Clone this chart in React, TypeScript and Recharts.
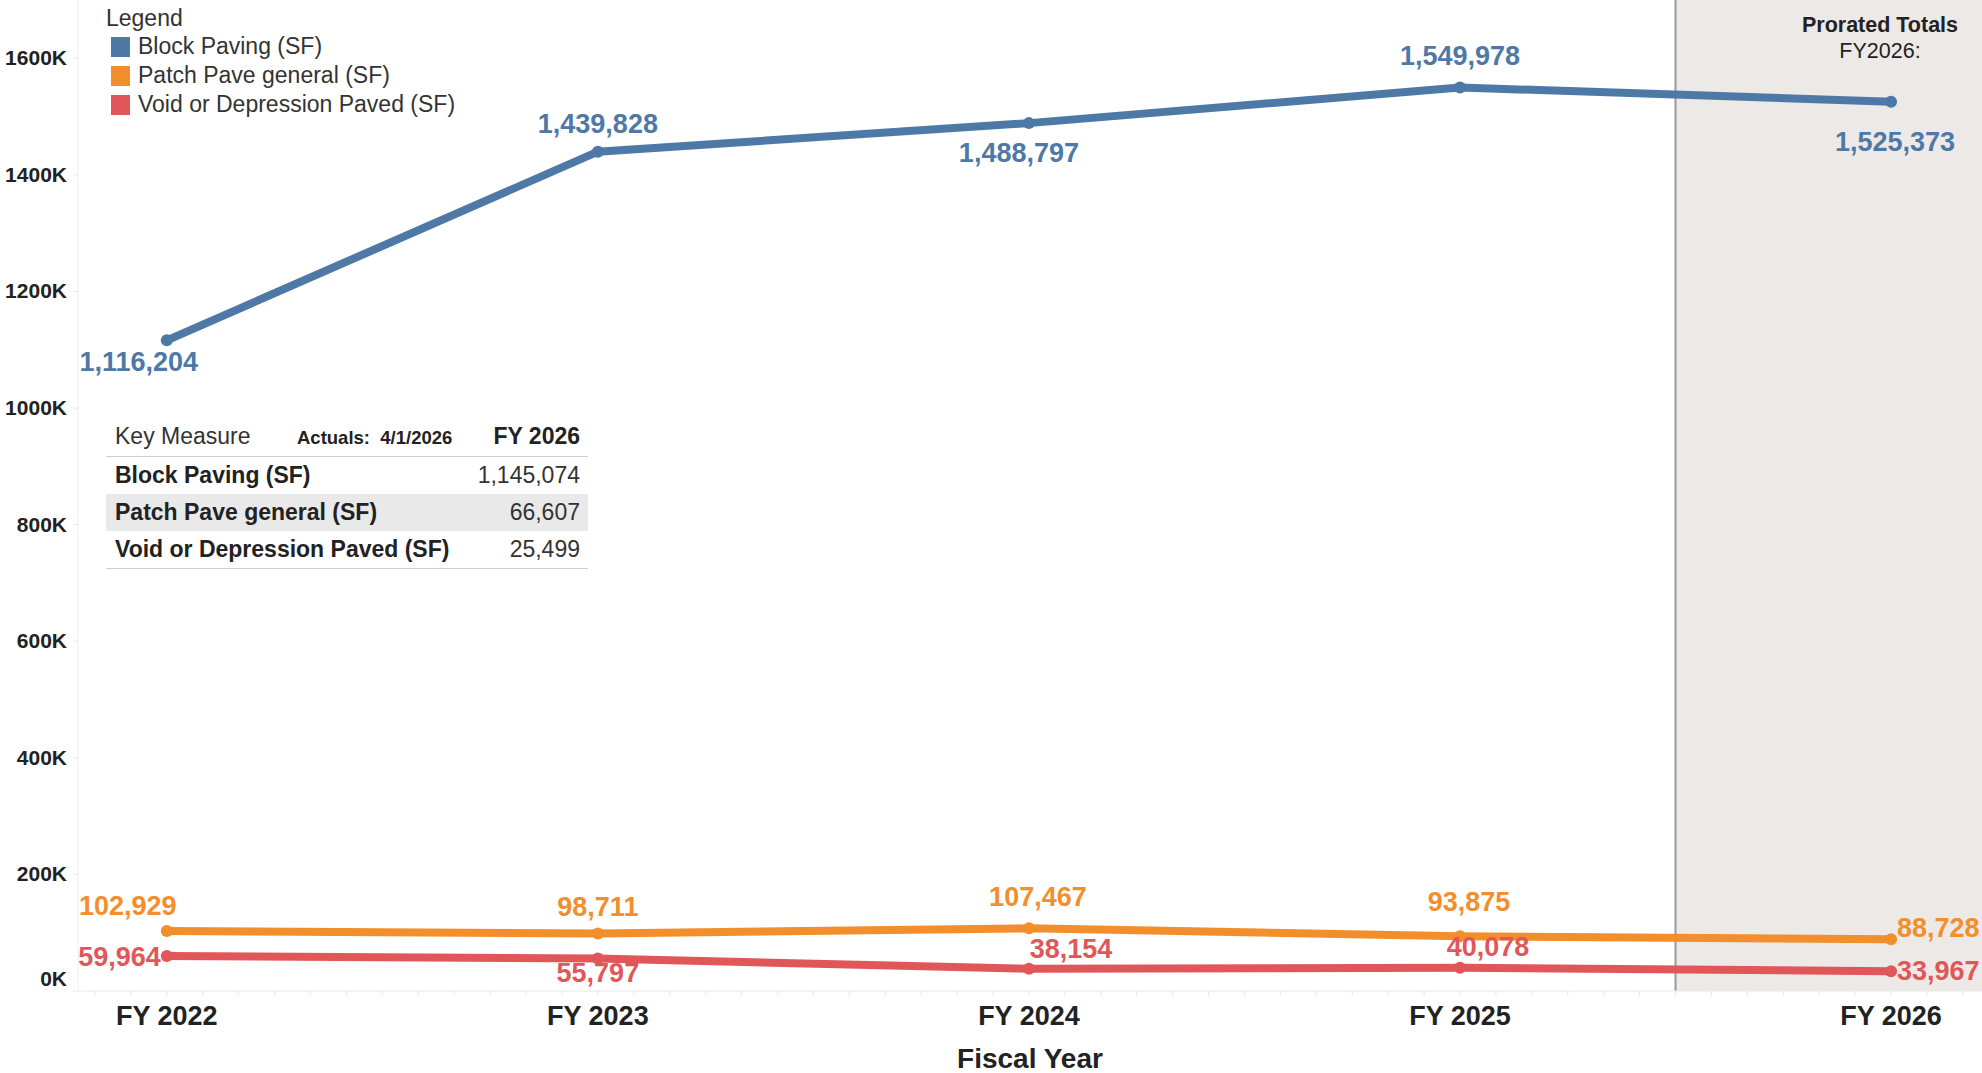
import { LineChart, Line, XAxis, YAxis, ReferenceArea, ReferenceLine, LabelList, Legend, Label } from "recharts"

const years = [2022, 2023, 2024, 2025, 2026]
const yearLabels = ["FY 2022", "FY 2023", "FY 2024", "FY 2025", "FY 2026"]
const blockPaving = [1116204, 1439828, 1488797, 1549978, 1525373]
const patchPave = [102929, 98711, 107467, 93875, 88728]
const voidPaved = [59964, 55797, 38154, 40078, 33967]
const yTicks = [0, 200000, 400000, 600000, 800000, 1000000, 1200000, 1400000, 1600000]

const tableRows = ["Block Paving (SF)", "Patch Pave general (SF)", "Void or Depression Paved (SF)"]
const tableValues = [1145074, 66607, 25499]

const data = years.map((year, i) => ({
  year,
  block: blockPaving[i],
  patch: patchPave[i],
  void: voidPaved[i],
}))

// monthly minor ticks like tableau's date axis
const monthTicks = Array.from({ length: 53 }, (_, i) => 2021 + (10 + i) / 12)

const FONT = '"Liberation Sans", Arial, sans-serif'
const BLUE = "#4e79a7"
const ORANGE = "#f28e2b"
const RED = "#e15759"

// label offsets from each point: [dx, dy(center), anchor]
const blockPos: [number, number, string][] = [[-28, 22, "middle"], [0, -28, "middle"], [-10, 30, "middle"], [0, -31, "middle"], [4, 40, "middle"]]
const patchPos: [number, number, string][] = [[-39, -25, "middle"], [0, -26, "middle"], [9, -31, "middle"], [9, -34, "middle"], [6, -11, "start"]]
const voidPos: [number, number, string][] = [[-6, 1, "end"], [0, 15, "middle"], [42, -20, "middle"], [28, -21, "middle"], [6, 0, "start"]]

const makeLabel = (color: string, pos: [number, number, string][]) => (props: any) => {
  const { x, y, value, index } = props
  const [dx, dy, anchor] = pos[index]
  return (
    <text x={x + dx} y={y + dy + 9} textAnchor={anchor as any} fill={color}
      style={{ fontFamily: FONT, fontSize: 27, fontWeight: 700 }}>
      {Number(value).toLocaleString("en-US")}
    </text>
  )
}

const XTick = (props: any) => {
  const { x, y, payload } = props
  const v = payload.value
  if (Math.abs(v - Math.round(v)) > 1e-6) return null
  const idx = years.indexOf(Math.round(v))
  return (
    <text x={x} y={y + 27} textAnchor="middle" fill="#222"
      style={{ fontFamily: FONT, fontSize: 27, fontWeight: 700 }}>
      {yearLabels[idx]}
    </text>
  )
}

const YTick = (props: any) => {
  const { x, y, payload } = props
  const shift = payload.value === 0 ? -12 : 0
  return (
    <text x={x - 4} y={y + 7 + shift} textAnchor="end" fill="#222"
      style={{ fontFamily: FONT, fontSize: 21, fontWeight: 700 }}>
      {payload.value / 1000}K
    </text>
  )
}

const LegendBox = ({ payload }: any) => (
  <div style={{ fontFamily: FONT, fontSize: 23, color: "#333", whiteSpace: "nowrap" }}>
    <div style={{ height: 28, lineHeight: "28px" }}>Legend</div>
    {payload.map((p: any) => (
      <div key={p.value} style={{ height: 29, display: "flex", alignItems: "center" }}>
        <span style={{ width: 19, height: 20, background: p.color, marginLeft: 5, marginRight: 8, flex: "none" }} />
        <span>{p.value}</span>
      </div>
    ))}
  </div>
)

const KeyTable = () => (
  <div style={{ position: "absolute", left: 106, top: 418, width: 482, fontFamily: FONT, color: "#222", whiteSpace: "nowrap" }}>
    <div style={{ position: "relative", height: 38, borderBottom: "1px solid #cfcfcf" }}>
      <span style={{ position: "absolute", left: 9, top: 5, fontSize: 23, color: "#333" }}>Key Measure</span>
      <span style={{ position: "absolute", left: 191, top: 9, fontSize: 18.5, fontWeight: 700 }}>Actuals:&nbsp; 4/1/2026</span>
      <span style={{ position: "absolute", right: 8, top: 5, fontSize: 23, fontWeight: 700 }}>FY 2026</span>
    </div>
    {tableRows.map((r, i) => (
      <div key={r} style={{ position: "relative", height: 37, background: i === 1 ? "#e9e9e9" : "transparent", fontSize: 23 }}>
        <span style={{ position: "absolute", left: 9, top: 5, fontWeight: 700 }}>{r}</span>
        <span style={{ position: "absolute", right: 8, top: 5, color: "#333" }}>{tableValues[i].toLocaleString("en-US")}</span>
      </div>
    ))}
    <div style={{ borderBottom: "1px solid #cfcfcf" }} />
  </div>
)

export default function App() {
  return (
    <div style={{ position: "absolute", left: 0, top: 0, width: 1982, height: 1073, background: "#fff" }}>
      <LineChart width={1982} height={1073} data={data} margin={{ top: 0, right: 0, left: 0, bottom: 0 }}>
        <ReferenceArea x1={2025.5} x2={2026.211} fill="#ece9e6" fillOpacity={1} stroke="none" ifOverflow="hidden" />
        <ReferenceLine x={2025.5} stroke="#999" strokeWidth={2} />
        <XAxis dataKey="year" type="number" domain={[2021.794, 2026.211]} ticks={monthTicks} interval={0}
          height={82} tick={<XTick />} tickSize={5} axisLine={{ stroke: "#e8e8e8" }} tickLine={{ stroke: "#e8e8e8" }}
          allowDataOverflow>
          <Label value="Fiscal Year" position="insideBottom" offset={5} fill="#222"
            style={{ fontFamily: FONT, fontSize: 28, fontWeight: 700 }} />
        </XAxis>
        <YAxis type="number" domain={[0, 1700000]} ticks={yTicks} interval={0} width={78}
          tick={<YTick />} tickSize={5} axisLine={{ stroke: "#efefef" }} tickLine={{ stroke: "#e8e8e8" }} allowDataOverflow />
        <Legend layout="vertical" align="center" verticalAlign="middle"
          wrapperStyle={{ left: 106, top: 4, width: 380, height: 120 }} content={<LegendBox />} />
        <Line dataKey="block" name="Block Paving (SF)" stroke={BLUE} strokeWidth={8} strokeLinecap="round"
          dot={{ r: 6, fill: BLUE, stroke: BLUE, strokeWidth: 0 }} activeDot={false} isAnimationActive={false}>
          <LabelList dataKey="block" content={makeLabel(BLUE, blockPos)} />
        </Line>
        <Line dataKey="patch" name="Patch Pave general (SF)" stroke={ORANGE} strokeWidth={8} strokeLinecap="round"
          dot={{ r: 6, fill: ORANGE, stroke: ORANGE, strokeWidth: 0 }} activeDot={false} isAnimationActive={false}>
          <LabelList dataKey="patch" content={makeLabel(ORANGE, patchPos)} />
        </Line>
        <Line dataKey="void" name="Void or Depression Paved (SF)" stroke={RED} strokeWidth={8} strokeLinecap="round"
          dot={{ r: 6, fill: RED, stroke: RED, strokeWidth: 0 }} activeDot={false} isAnimationActive={false}>
          <LabelList dataKey="void" content={makeLabel(RED, voidPos)} />
        </Line>
      </LineChart>
      <KeyTable />
      <div style={{ position: "absolute", left: 1780, width: 200, top: 12, textAlign: "center", fontFamily: FONT, color: "#222" }}>
        <div style={{ fontSize: 21.5, fontWeight: 700, lineHeight: "26px" }}>Prorated Totals</div>
        <div style={{ fontSize: 21.5, lineHeight: "26px" }}>FY2026:</div>
      </div>
    </div>
  )
}
